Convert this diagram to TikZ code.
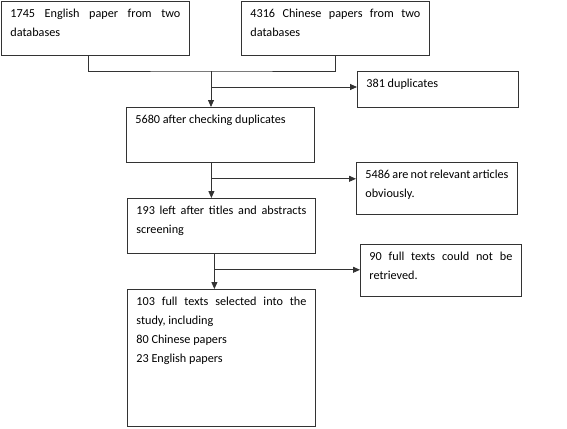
\documentclass[tikz,border=0pt]{standalone}
\usepackage{fontspec}
\setmainfont{Carlito}
\usetikzlibrary{arrows.meta}
\hyphenpenalty=10000
\exhyphenpenalty=10000
\tolerance=9999

\begin{document}
\begin{tikzpicture}[x=1pt, y=-1pt,
  box/.style={draw=black!80, line width=0.8pt, anchor=north west, align=justify,
    inner xsep=9pt, inner ysep=0pt, text height=16.5pt,
    font=\fontsize{12.2pt}{18.7pt}\selectfont},
  wide/.style={box, text width=170pt},
  narrow/.style={box, text width=143pt},
  link/.style={draw=black!80, line width=0.8pt},
  arr/.style={link, -{Triangle[length=7pt, width=6pt]}}]

  %% Page size.
  \useasboundingbox (0,0) rectangle (567,428);


  %% The two sources and their bracket:
  \node[wide, text depth=37.5pt] (eng) at (1,1)
  {1745 English paper from two databases};
  \node[wide, text depth=37.5pt] (chi) at (241,1)
  {4316 Chinese papers from two databases};
  \coordinate (merge) at (211,71);
  \draw[link] ([xshift=-7pt]eng.south) |- (merge) -| (chi.south);


  %% Duplicates:
  \node[narrow, text depth=19.5pt] (dup) at (357,71) {381 duplicates};
  \node[wide, text depth=38.5pt] (checked) at (126,107)
  {5680 after checking duplicates};
  \coordinate (b1) at ([yshift=-16pt]merge);
  \draw[arr] (merge) -- (merge |- checked.north);
  \draw[arr] (b1) -- (b1 -| dup.west);


  %% Titles and abstracts:
  \node[narrow, text depth=35.5pt] (irrel) at (356,162)
  {5486 are not relevant articles obviously.};
  \node[wide, text depth=38.5pt] (screened) at (127,198)
  {193 left after titles and abstracts screening};
  \coordinate (s2) at ([xshift=-9pt]checked.south);
  \coordinate (b2) at ([yshift=-16pt]s2);
  \draw[arr] (s2) -- (s2 |- screened.north);
  \draw[arr] (b2) -- (b2 -| irrel.west);


  %% Full texts:
  \node[narrow, text depth=35.5pt] (notret) at (360,244)
  {90 full texts could not be retrieved.};
  \node[wide, text depth=120.5pt] (final) at (127,289)
  {103 full texts selected into the study, including\\
    80 Chinese papers\\
    23 English papers};
  \coordinate (s3) at ([xshift=-7pt]screened.south);
  \coordinate (b3) at ([yshift=-16pt]s3);
  \draw[arr] (s3) -- (s3 |- final.north);
  \draw[arr] (b3) -- (b3 -| notret.west);

\end{tikzpicture}
\end{document}
